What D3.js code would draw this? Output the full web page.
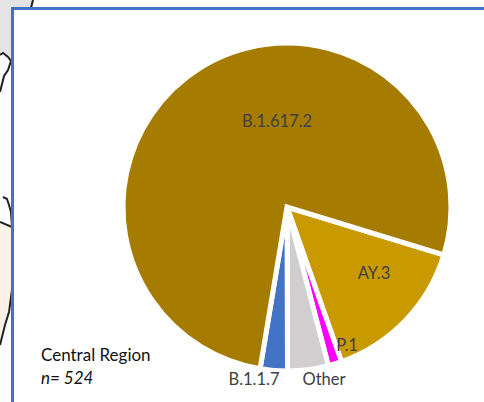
<!DOCTYPE html>
<html><head><meta charset="utf-8">
<script src="https://cdn.jsdelivr.net/npm/d3@7"></script>
<style>html,body{margin:0;padding:0;background:#fff}svg{display:block}</style>
</head><body><div id="chart"></div>
<script>
const categories = ["AY.3","P.1","Other","B.1.1.7","B.1.617.2"];
const counts = [78,7,21,14,404];
const colors = ["#c89a00","#ff00ff","#d0cece","#4472c4","#a67c00"];
const labelXY = [[374,273],[347,345],[324,379],[254,379],[277,121]];
const regionName = "Central Region", regionN = "n= 524";
const W=484,H=402,cx=287,cy=207,r=164;

const svg=d3.select("#chart").append("svg").attr("width",W).attr("height",H);
svg.append("rect").attr("width",W).attr("height",H).attr("fill","#fff");
// background map fragment
svg.append("path").attr("d","M0,0H33L30,9H13V62L8,57L3,53L0,55Z").attr("fill","#e4e4e4");
svg.append("path").attr("d","M0,223L12,228V290L5,325L0,345Z").attr("fill","#fdf0e6");
const line=d3.line().curve(d3.curveLinear);
const mapLines=[
 [[33,0],[31,8]],
 [[0,55],[3,53],[8,57],[11,61],[8,70],[4,76],[1,88],[0,92]],
 [[3,197],[7,199],[9,205],[11,212],[12,227]],
 [[0,222],[12,227]],
 [[12,290],[9,312],[5,325],[0,345]]
];
svg.selectAll("path.map").data(mapLines).join("path").attr("class","map")
 .attr("d",line).attr("fill","none").attr("stroke","#222").attr("stroke-width",2);
// frame
svg.append("rect").attr("x",12.5).attr("y",8.5).attr("width",W+20).attr("height",H+20)
 .attr("fill","#fff").attr("stroke","#4472c4").attr("stroke-width",3);

const pie=d3.pie().sort(null).startAngle(107*Math.PI/180).endAngle((107+360)*Math.PI/180);
const arc=d3.arc().innerRadius(0).outerRadius(r);
const g=svg.append("g").attr("transform",`translate(${cx},${cy})`);
g.selectAll("path").data(pie(counts)).join("path").attr("d",arc)
 .attr("fill",(d,i)=>colors[i]).attr("stroke","#fff").attr("stroke-width",5).attr("stroke-linejoin","miter");
svg.selectAll("text.lab").data(categories).join("text").attr("class","lab")
 .attr("x",(d,i)=>labelXY[i][0]).attr("y",(d,i)=>labelXY[i][1]+5.5)
 .attr("text-anchor","middle").attr("fill","#404040")
 .attr("font-family","Lato,sans-serif").attr("font-size",16.5).text(d=>d);
svg.append("text").attr("x",41).attr("y",361).attr("font-family","Lato,sans-serif").attr("font-size",17).attr("fill","#111").text(regionName);
svg.append("text").attr("x",41).attr("y",384).attr("font-family","Lato,sans-serif").attr("font-style","italic").attr("font-size",17).attr("fill","#111").text(regionN);
</script></body></html>
